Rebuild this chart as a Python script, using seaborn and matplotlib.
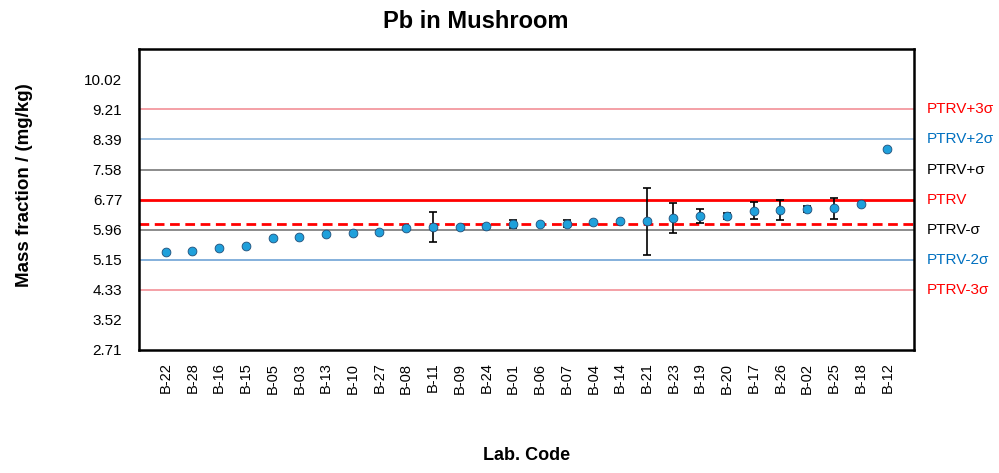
import matplotlib
matplotlib.use("Agg")
import matplotlib.pyplot as plt
import matplotlib.transforms as mtransforms
import seaborn as sns
import numpy as np
import pandas as pd

# ---- data ----
lab_codes = ["B-22", "B-28", "B-16", "B-15", "B-05", "B-03", "B-13", "B-10", "B-27", "B-08",
             "B-11", "B-09", "B-24", "B-01", "B-06", "B-07", "B-04", "B-14", "B-21", "B-23",
             "B-19", "B-20", "B-17", "B-26", "B-02", "B-25", "B-18", "B-12"]
mass_fraction = [5.36, 5.38, 5.45, 5.51, 5.74, 5.75, 5.83, 5.87, 5.89, 5.99,
                 6.03, 6.03, 6.07, 6.11, 6.11, 6.12, 6.16, 6.18, 6.18, 6.27,
                 6.33, 6.33, 6.47, 6.49, 6.51, 6.53, 6.64, 8.14]
uncertainty = [0, 0, 0, 0, 0, 0, 0, 0, 0, 0,
               0.40, 0, 0, 0.12, 0, 0.10, 0, 0, 0.91, 0.40,
               0.19, 0.09, 0.23, 0.28, 0.08, 0.28, 0, 0]

ptrv = 6.77
sigma = 0.8125
robust_mean = 6.12

ytick_values = [2.71, 3.52, 4.33, 5.15, 5.96, 6.77, 7.58, 8.39, 9.21, 10.02]
ytick_labels = ["2.71", "3.52", "4.33", "5.15", "5.96", "6.77", "7.58", "8.39", "9.21", "10.02"]

ref_labels = ["PTRV+3σ", "PTRV+2σ", "PTRV+σ", "PTRV", "PTRV-σ", "PTRV-2σ", "PTRV-3σ"]
ref_multipliers = [3, 2, 1, 0, -1, -2, -3]
ref_line_colors = ["#F4A0A6", "#9DC0E2", "#8C8C8C", "#FF0000", "#8C8C8C", "#6FA3D6", "#F4A0A6"]
ref_line_widths = [1.4, 1.4, 1.4, 2.0, 1.4, 1.2, 1.4]
ref_text_colors = ["#FF0000", "#0070C0", "#000000", "#FF0000", "#000000", "#0070C0", "#FF0000"]

# ---- style ----
sns.set_theme(style="white")
plt.rcParams["font.family"] = ["Liberation Sans", "DejaVu Sans"]
plt.rcParams["text.color"] = "black"

df = pd.DataFrame({
    "pos": np.arange(len(lab_codes)),
    "code": lab_codes,
    "value": mass_fraction,
    "unc": uncertainty,
})

fig = plt.figure(figsize=(9.99, 4.73), dpi=100)
ax = fig.add_axes([0.139, 0.260, 0.776, 0.636])

# reference lines
for m, c, lw in zip(ref_multipliers, ref_line_colors, ref_line_widths):
    ax.axhline(ptrv + m * sigma, color=c, lw=lw, zorder=1)
ax.axhline(robust_mean, color="#FF0000", lw=2.0, dashes=(3.5, 2.0), zorder=2)

# error bars
eb = df[df["unc"] > 0]
ax.errorbar(eb["pos"], eb["value"], yerr=eb["unc"], fmt="none", ecolor="black",
            elinewidth=1.2, capsize=3, capthick=1.2, zorder=3)

# points
sns.scatterplot(data=df, x="pos", y="value", ax=ax, s=40, color="#1FA0DB",
                edgecolor="#1F4E79", linewidth=0.6, zorder=4, legend=False)

ax.set_xlim(-1, len(lab_codes))
ax.set_ylim(ptrv - 5 * sigma, ptrv + 5 * sigma)
ax.set_xticks(df["pos"])
ax.set_xticklabels(lab_codes, rotation=90, fontsize=10.5)
ax.set_yticks(ytick_values)
ax.set_yticklabels(ytick_labels, fontsize=11)
ax.tick_params(axis="both", direction="in", length=4, width=0.8, colors="black")
ax.tick_params(axis="y", pad=12)
ax.tick_params(axis="x", pad=9)
ax.set_xlabel("")
ax.set_ylabel("")
for s in ax.spines.values():
    s.set_visible(True)
    s.set_color("black")
    s.set_linewidth(1.8)

# right-side labels
trans = mtransforms.blended_transform_factory(ax.transAxes, ax.transData)
for lab, m, c in zip(ref_labels, ref_multipliers, ref_text_colors):
    ax.text(1.016, ptrv + m * sigma, lab, transform=trans, ha="left", va="center",
            fontsize=11, color=c)

# titles
fig.text(476 / 999, 1 - 22 / 473, "Pb in Mushroom", ha="center", va="center",
         fontsize=17, fontweight="bold", color="black")
fig.text(25 / 999, 1 - 185 / 473, "Mass fraction / (mg/kg)", ha="center", va="center",
         rotation=90, fontsize=13.5, fontweight="bold", color="black")
fig.text(527 / 999, 1 - 455 / 473, "Lab. Code", ha="center", va="center",
         fontsize=13, fontweight="bold", color="black")

fig.savefig("out.png", dpi=100)
